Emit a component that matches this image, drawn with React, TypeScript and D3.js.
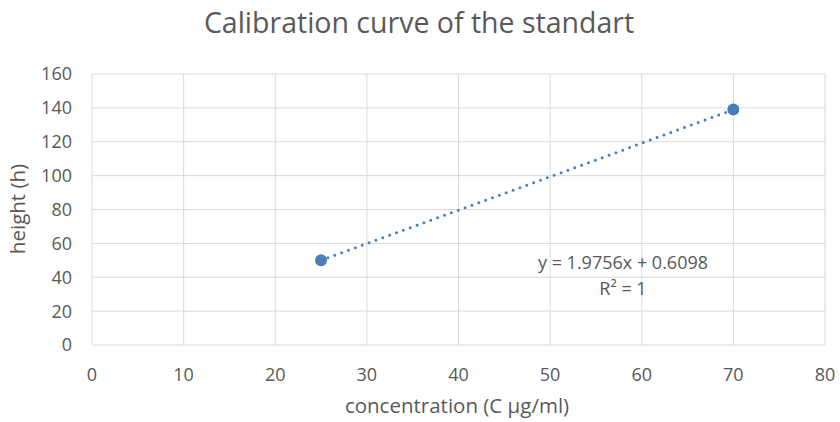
import React from 'react';
import * as d3 from 'd3';

const concentration = [25, 70];
const heightValues = [50, 139];
const xTicks = [0, 10, 20, 30, 40, 50, 60, 70, 80];
const yTicks = [0, 20, 40, 60, 80, 100, 120, 140, 160];
const slope = 1.9756;
const intercept = 0.6098;
const equationLines = ['y = 1.9756x + 0.6098', 'R² = 1'];

const W = 840;
const H = 422;
const margin = { top: 74, right: 15, bottom: 77, left: 92 };
const FONT = "'Open Sans', 'Noto Sans', sans-serif";
const TEXT = '#595959';
const GRID = '#d9d9d9';
const BLUE = '#4a7ebb';

export default function App() {
  const x = d3.scaleLinear().domain([0, 80]).range([margin.left, W - margin.right]);
  const y = d3.scaleLinear().domain([0, 160]).range([H - margin.bottom, margin.top]);

  const points = concentration.map((c, i) => ({ c, h: heightValues[i] }));
  const xMin = d3.min(concentration) as number;
  const xMax = d3.max(concentration) as number;
  const trend = d3.line<number>()
    .x(d => x(d))
    .y(d => y(slope * d + intercept))([xMin, xMax]) || '';

  return (
    <svg width={W} height={H} style={{ position: 'absolute', left: 0, top: 0 }}>
      <rect width={W} height={H} fill="white" />
      <text x={419} y={33} textAnchor="middle" fontFamily={FONT} fontSize={28.5} fill={TEXT}>
        Calibration curve of the standart
      </text>

      {yTicks.map(t => (
        <line key={'gy' + t} x1={x(0)} x2={x(80)} y1={y(t)} y2={y(t)} stroke={GRID} strokeWidth={1} />
      ))}
      {xTicks.map(t => (
        <line key={'gx' + t} x1={x(t)} x2={x(t)} y1={y(0)} y2={y(160)} stroke={GRID} strokeWidth={1} />
      ))}

      {yTicks.map(t => (
        <text key={'ty' + t} x={72} y={y(t)} dy="0.36em" textAnchor="end" fontFamily={FONT} fontSize={18} fill={TEXT}>
          {t}
        </text>
      ))}
      {xTicks.map(t => (
        <text key={'tx' + t} x={x(t)} y={381} textAnchor="middle" fontFamily={FONT} fontSize={18} fill={TEXT}>
          {t}
        </text>
      ))}

      <text x={457} y={413} textAnchor="middle" fontFamily={FONT} fontSize={20.5} fill={TEXT}>
        concentration (C μg/ml)
      </text>
      <text transform="translate(25,209) rotate(-90)" textAnchor="middle" fontFamily={FONT} fontSize={20.5} fill={TEXT}>
        height (h)
      </text>

      <path d={trend} fill="none" stroke={BLUE} strokeWidth={3} strokeDasharray="0 7.3" strokeLinecap="round" />

      {points.map((p, i) => (
        <circle key={i} cx={x(p.c)} cy={y(p.h)} r={6} fill={BLUE} />
      ))}

      {equationLines.map((l, i) => (
        <text key={l} x={623} y={269 + i * 26} textAnchor="middle" fontFamily={FONT} fontSize={18} fill={TEXT}>
          {l}
        </text>
      ))}
    </svg>
  );
}
